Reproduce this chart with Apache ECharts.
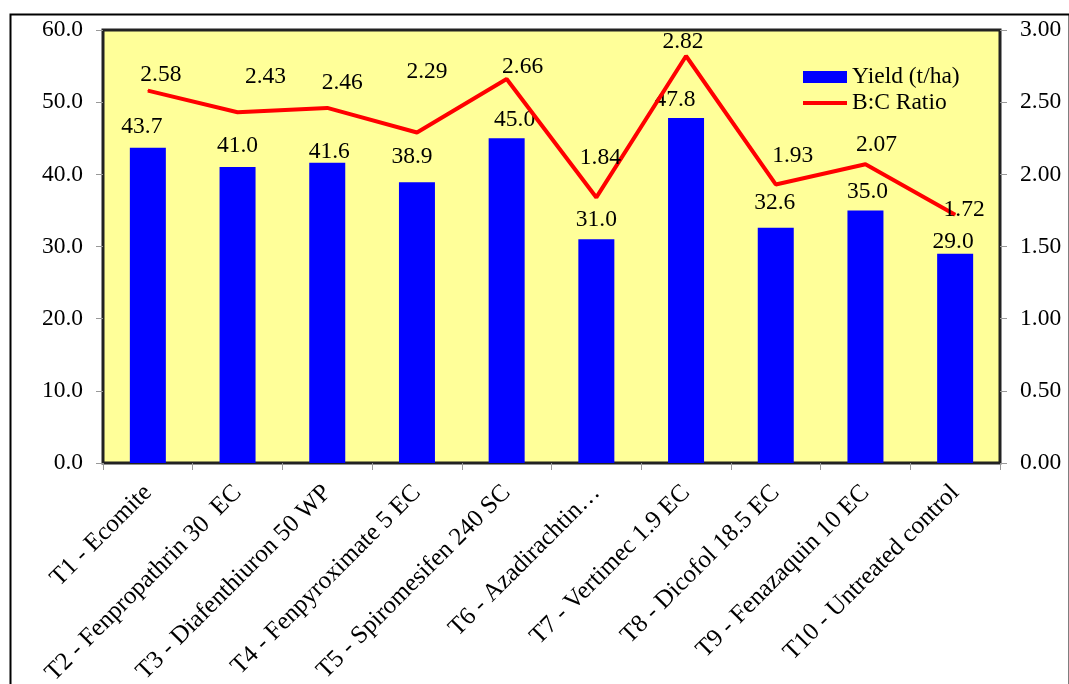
<!DOCTYPE html>
<html>
<head>
<meta charset="utf-8">
<script src="https://cdn.jsdelivr.net/npm/echarts@6/dist/echarts.min.js"></script>
<style>
html,body{margin:0;padding:0;background:#fff;}
#chart{width:1069px;height:684px;}
</style>
</head>
<body>
<div id="chart"></div>
<script>
const categories = ["T1 - Ecomite","T2 - Fenpropathrin 30  EC","T3 - Diafenthiuron 50 WP","T4 - Fenpyroximate 5 EC","T5 - Spiromesifen 240 SC","T6 - Azadirachtin\u2026","T7 - Vertimec 1.9 EC","T8 - Dicofol 18.5 EC","T9 - Fenazaquin 10 EC","T10 - Untreated control"];
const yieldValues = [43.7, 41.0, 41.6, 38.9, 45.0, 31.0, 47.8, 32.6, 35.0, 29.0];
const bcRatio = [2.58, 2.43, 2.46, 2.29, 2.66, 1.84, 2.82, 1.93, 2.07, 1.72];

// label placement (style only): offset of each label centre from its mark, in px
const barLabelOffsets = [[-6,-24],[0,-24],[2,-14],[-5,-28],[8,-21],[0,-22],[-11,-21],[-1,-28],[2,-22],[-2,-15]];
const lineLabelOffsets = [[13,-18],[28,-38],[15,-28],[10,-63],[16,-15],[4,-42],[-3,-17],[17,-31],[11,-22],[9,-7]];

const FONT = '"Liberation Serif","Times New Roman",serif';
const FS = 23.5;
const HALF = 15;
const chart = echarts.init(document.getElementById('chart'));

const barData = yieldValues.map((v, i) => ({ value: v, label: { offset: [barLabelOffsets[i][0], barLabelOffsets[i][1] + HALF] } }));
const lineData = bcRatio.map((v, i) => ({ value: v, label: { offset: [lineLabelOffsets[i][0], lineLabelOffsets[i][1] + HALF] } }));

chart.setOption({
  backgroundColor: '#ffffff',
  animation: false,
  graphic: [{
    type: 'rect', left: 8, top: 12, z: 0,
    shape: { width: 1059, height: 700 },
    style: { fill: 'none', stroke: '#000', lineWidth: 2 }
  }],
  grid: {
    left: 103, right: 69, top: 30, bottom: 221,
    outerBoundsMode: 'none', containLabel: false,
    show: true, backgroundColor: '#FFFF99', borderColor: '#222', borderWidth: 3
  },
  legend: {
    orient: 'vertical', left: 798, top: 60, itemGap: 2,
    itemWidth: 44, itemHeight: 12,
    textStyle: { fontFamily: FONT, fontSize: FS, fontWeight: 'normal', color: '#000' },
    data: [
      { name: 'Yield (t/ha)', icon: 'rect' },
      { name: 'B:C Ratio', icon: 'path://M0,0 L44,0 L44,4 L0,4 Z' }
    ]
  },
  xAxis: {
    type: 'category', data: categories,
    axisLine: { show: false },
    axisTick: { show: true, length: 7, lineStyle: { color: '#999' } },
    axisLabel: { rotate: 45, fontFamily: FONT, fontSize: 25, fontWeight: 'normal', color: '#000', margin: 26, interval: 0 }
  },
  yAxis: [{
    type: 'value', min: 0, max: 60, interval: 10,
    axisLine: { show: false },
    axisTick: { show: true, length: 7, lineStyle: { color: '#999' } },
    splitLine: { show: false },
    axisLabel: { fontFamily: FONT, fontSize: FS, fontWeight: 'normal', color: '#000', margin: 20, formatter: v => v.toFixed(1) }
  }, {
    type: 'value', min: 0, max: 3, interval: 0.5,
    axisLine: { show: false },
    axisTick: { show: true, length: 7, lineStyle: { color: '#999' } },
    splitLine: { show: false },
    axisLabel: { fontFamily: FONT, fontSize: FS, fontWeight: 'normal', color: '#000', margin: 20, formatter: v => v.toFixed(2) }
  }],
  series: [{
    name: 'Yield (t/ha)', type: 'bar', data: barData, barWidth: 36,
    itemStyle: { color: '#0000FF' },
    label: { show: true, position: 'top', distance: 0, fontFamily: FONT, fontSize: FS, fontWeight: 'normal', color: '#000', formatter: p => Number(p.value).toFixed(1) }
  }, {
    name: 'B:C Ratio', type: 'line', yAxisIndex: 1, data: lineData,
    showSymbol: true, symbol: 'circle', symbolSize: 1,
    lineStyle: { color: '#FF0000', width: 4 }, itemStyle: { color: '#FF0000' },
    label: { show: true, position: 'top', distance: 0, fontFamily: FONT, fontSize: FS, fontWeight: 'normal', color: '#000', formatter: p => Number(p.value).toFixed(2) }
  }]
});
</script>
</body>
</html>
